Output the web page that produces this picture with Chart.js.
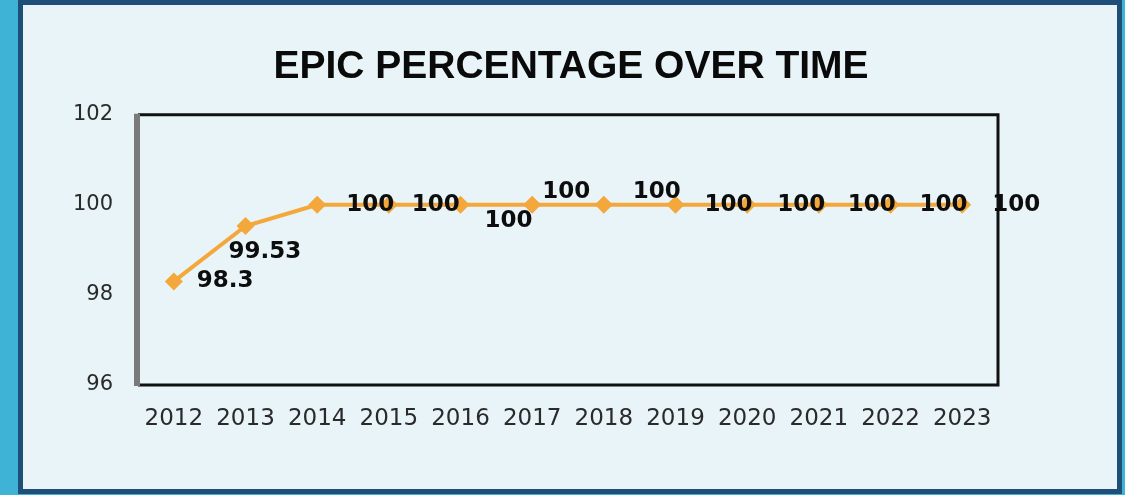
<!DOCTYPE html>
<html>
<head>
<meta charset="utf-8">
<script src="https://cdn.jsdelivr.net/npm/chart.js@4"></script>
<style>
  html, body { margin: 0; padding: 0; }
  body { width: 1125px; height: 495px; background: #3fb3d6; position: relative; overflow: hidden; }
  #panel {
    position: absolute; left: 18px; top: 0; width: 1094px; height: 484px;
    border: 5px solid #1d4f78; background: #e8f4f7;
  }
  #wrap { position: absolute; left: 0; top: 0; width: 1125px; height: 495px; }
</style>
</head>
<body>
<div id="panel"></div>
<div id="wrap"><canvas id="epic-chart" width="1125" height="495"></canvas></div>
<script>
const years = ['2012', '2013', '2014', '2015', '2016', '2017', '2018', '2019', '2020', '2021', '2022', '2023'];
const epicPercent = [98.3, 99.53, 100, 100, 100, 100, 100, 100, 100, 100, 100, 100];
const yTicks = [96, 98, 100, 102];

// where each value label sits, relative to its point (left edge, vertical centre)
const labelShift = [[23, 0], [-17, 26], [29, 0], [23, 0], [24, 16], [10, -13],
                    [29, -13], [29, 0], [30, 0], [29, 0], [29, 0], [30, 0]];

const lineColor = '#f4a73a';

// frame round the plot area, grey on the left like the original
const frameBox = {
  id: 'frameBox',
  afterDatasetsDraw(chart) {
    const { ctx, chartArea: a } = chart;
    ctx.save();
    ctx.strokeStyle = '#111';
    ctx.lineWidth = 3;
    ctx.beginPath();
    ctx.moveTo(a.left, a.top);
    ctx.lineTo(a.right, a.top);
    ctx.lineTo(a.right, a.bottom);
    ctx.lineTo(a.left, a.bottom);
    ctx.stroke();
    ctx.strokeStyle = '#7a7a7a';
    ctx.lineWidth = 6;
    ctx.beginPath();
    ctx.moveTo(a.left - 1, a.top - 1);
    ctx.lineTo(a.left - 1, a.bottom + 1);
    ctx.stroke();
    ctx.restore();
  }
}

const valueLabels = {
  id: 'valueLabels',
  afterDatasetsDraw(chart) {
    const ctx = chart.ctx;
    const meta = chart.getDatasetMeta(0);
    ctx.save();
    ctx.font = 'bold 23px "DejaVu Sans"';
    ctx.fillStyle = '#0d0d0d';
    ctx.textAlign = 'left';
    ctx.textBaseline = 'middle';
    meta.data.forEach((pt, i) => {
      const s = labelShift[i];
      ctx.fillText(String(epicPercent[i]), pt.x + s[0], pt.y + s[1]);
    });
    ctx.restore();
  }
}

new Chart(document.getElementById('epic-chart'), {
  type: 'line',
  data: {
    labels: years,
    datasets: [{
      data: epicPercent,
      borderColor: lineColor,
      backgroundColor: lineColor,
      borderWidth: 4,
      pointStyle: 'rectRot',
      pointRadius: 9,
      pointBorderWidth: 0,
      fill: false,
      tension: 0
    }]
  },
  options: {
    responsive: false,
    animation: false,
    devicePixelRatio: 1,
    layout: { padding: { left: 17, right: 0, top: 0, bottom: 0 } },
    plugins: {
      legend: { display: false },
      tooltip: { enabled: false },
      title: {
        display: true,
        text: 'EPIC PERCENTAGE OVER TIME',
        color: '#0a0a0a',
        font: { family: '"Liberation Sans"', size: 39, weight: 'bold', lineHeight: 1.2 },
        padding: { top: 44, bottom: 24 }
      }
    },
    scales: {
      x: {
        offset: true,
        grid: { display: false, drawTicks: false },
        border: { display: false },
        ticks: {
          color: '#2a2a2a',
          padding: 20,
          maxRotation: 0,
          font: { family: '"DejaVu Sans"', size: 23 }
        },
        afterFit(scale) { scale.height = 110; }
      },
      y: {
        min: 96,
        max: 102,
        grid: { display: false, drawTicks: false },
        border: { display: false },
        afterBuildTicks(scale) { scale.ticks = yTicks.map(v => ({ value: v })); },
        ticks: {
          color: '#2a2a2a',
          padding: 25,
          font: { family: '"DejaVu Sans"', size: 21 }
        },
        afterFit(scale) { scale.width = 121; }
      },
      // empty axis on the right, keeps the margin there
      y2: {
        position: 'right',
        min: 96,
        max: 102,
        grid: { display: false, drawTicks: false },
        border: { display: false },
        ticks: { display: false },
        afterFit(scale) { scale.width = 127; }
      }
    }
  },
  plugins: [frameBox, valueLabels]
});
</script>
</body>
</html>
